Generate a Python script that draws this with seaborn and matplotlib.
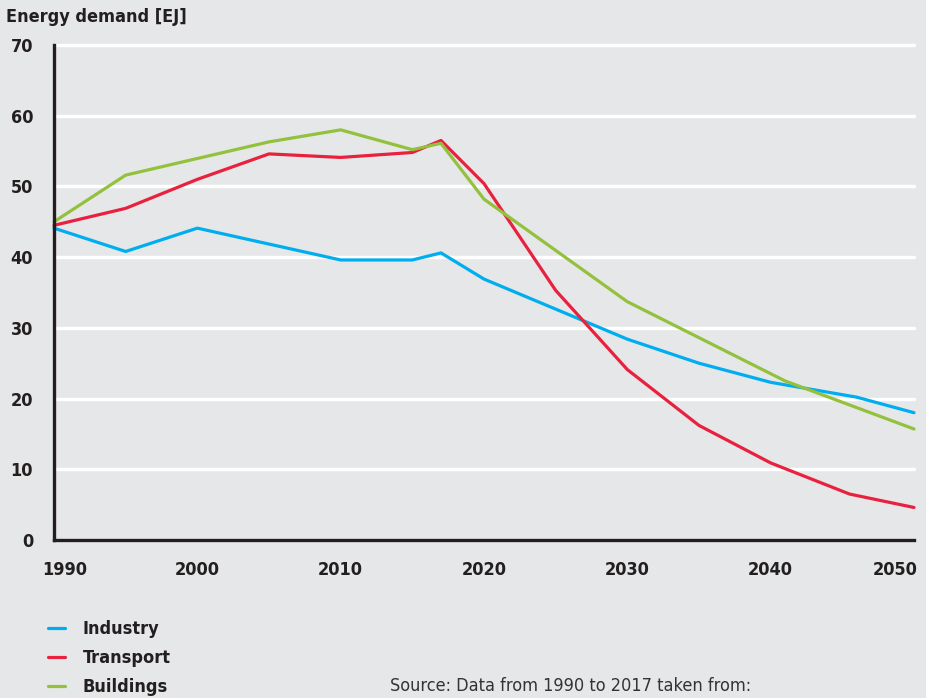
import matplotlib
matplotlib.use("Agg")
import matplotlib.pyplot as plt
import matplotlib.transforms as mtransforms
import seaborn as sns
import pandas as pd

# 資料
industry_years = [1990, 1995, 2000, 2010, 2015, 2017, 2020, 2030, 2035, 2040, 2046, 2050]
industry_values = [44.1, 40.8, 44.1, 39.6, 39.6, 40.6, 36.9, 28.4, 25.0, 22.3, 20.2, 18.0]

transport_years = [1990, 1995, 2000, 2005, 2010, 2015, 2017, 2020, 2025, 2030, 2035, 2040, 2045.5, 2050]
transport_values = [44.5, 46.9, 51.0, 54.6, 54.1, 54.8, 56.5, 50.4, 35.3, 24.1, 16.2, 10.9, 6.5, 4.6]

buildings_years = [1990, 1995, 2005, 2010, 2015, 2017, 2020, 2030, 2041, 2050]
buildings_values = [45.0, 51.6, 56.3, 58.0, 55.2, 56.1, 48.2, 33.7, 22.5, 15.7]

sectors = ["Industry", "Transport", "Buildings"]
colors = ["#00aeef", "#e8213f", "#94c13d"]
y_ticks = [0, 10, 20, 30, 40, 50, 60, 70]
x_ticks = [1990, 2000, 2010, 2020, 2030, 2040, 2050]

df = pd.concat([
    pd.DataFrame({"year": industry_years, "value": industry_values, "sector": "Industry"}),
    pd.DataFrame({"year": transport_years, "value": transport_values, "sector": "Transport"}),
    pd.DataFrame({"year": buildings_years, "value": buildings_values, "sector": "Buildings"}),
])

bg = "#e6e7e8"
sns.set_style("white")
plt.rcParams["font.family"] = ["DejaVu Sans"]
plt.rcParams["font.stretch"] = "condensed"

fig = plt.figure(figsize=(9.26, 6.98), dpi=100, facecolor=bg)
ax = fig.add_axes([54 / 926, 1 - 540 / 698, 860 / 926, 495 / 698])
ax.set_facecolor(bg)

# 白色格線
for yv in y_ticks[1:]:
    ax.axhline(yv, color="white", lw=2.4, zorder=0)

sns.lineplot(data=df, x="year", y="value", hue="sector", hue_order=sectors,
             palette=colors, estimator=None, sort=False, lw=2.3, ax=ax,
             legend=True)
for line in ax.lines:
    line.set_clip_on(False)

ax.set_xlim(1990, 2050)
ax.set_ylim(0, 70)
ax.set_xticks(x_ticks)
ax.set_yticks(y_ticks)
ax.set_xlabel("")
ax.set_ylabel("")

for side in ["top", "right"]:
    ax.spines[side].set_visible(False)
for side in ["left", "bottom"]:
    ax.spines[side].set_linewidth(2.4)
    ax.spines[side].set_color("#231f20")
ax.tick_params(axis="both", direction="out", length=9, width=2.4, color="#231f20",
               labelsize=13, labelcolor="#231f20")
ax.tick_params(axis="x", pad=6)
ax.tick_params(axis="y", pad=6)
for lab in ax.get_xticklabels() + ax.get_yticklabels():
    lab.set_fontweight("bold")

# 首尾年份標籤往內移
xlabels = ax.get_xticklabels()
xlabels[0].set_transform(xlabels[0].get_transform() +
                         mtransforms.ScaledTranslation(11 / 100, 0, fig.dpi_scale_trans))
xlabels[-1].set_horizontalalignment("right")
xlabels[-1].set_transform(xlabels[-1].get_transform() +
                          mtransforms.ScaledTranslation(4 / 100, 0, fig.dpi_scale_trans))

fig.text(6 / 926, 1 - 17 / 698, "Energy demand [EJ]", fontsize=13, fontweight="bold",
         color="#231f20", va="center", ha="left")

# 圖例
handles, labels = ax.get_legend_handles_labels()
ax.legend_.remove()
leg = fig.legend(handles, labels, loc="upper left", bbox_to_anchor=(32 / 926, 1 - 604 / 698),
                 frameon=False, handlelength=0.9, handletextpad=1.0, labelspacing=0.6,
                 prop={"size": 13, "weight": "bold"})
for t in leg.get_texts():
    t.set_color("#231f20")

fig.text(390 / 926, 1 - 686 / 698, "Source: Data from 1990 to 2017 taken from:",
         fontsize=13, color="#333333", va="center", ha="left")

fig.savefig("out.png", dpi=100, facecolor=bg)
